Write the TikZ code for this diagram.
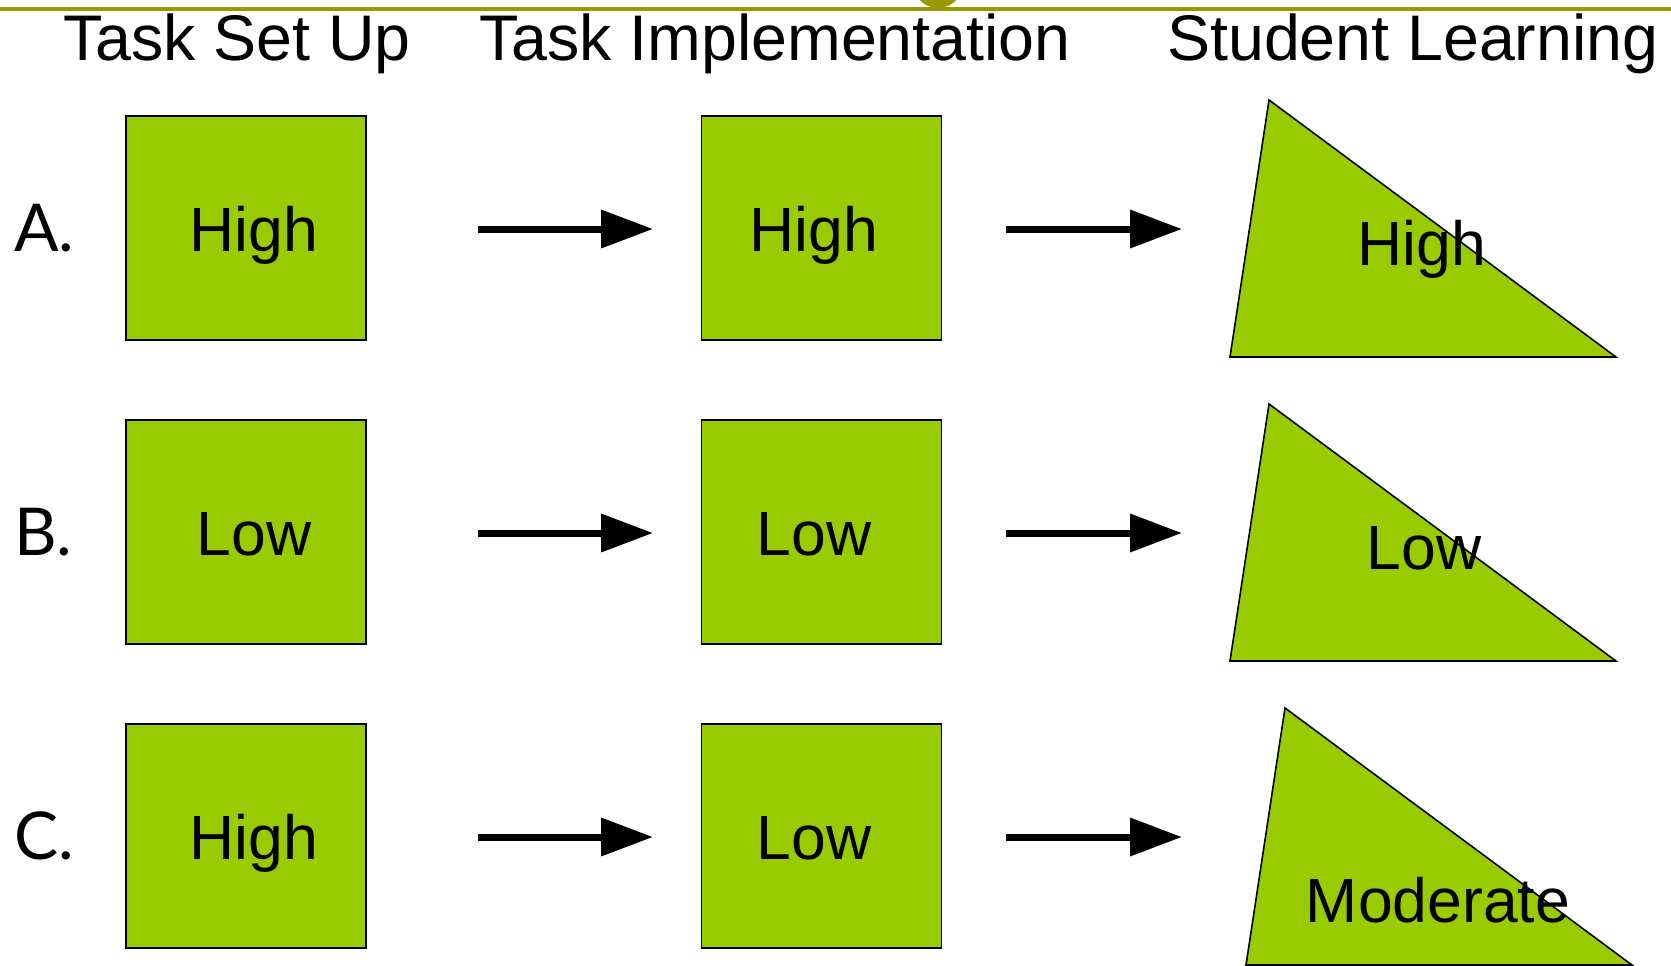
\documentclass[tikz,border=0pt]{standalone}
\usepackage{fontspec}
\setmainfont{Liberation Sans}
\newfontfamily\labelfont{Lato}
\usetikzlibrary{arrows.meta}
\definecolor{boxgreen}{RGB}{153,204,0}
\definecolor{olive}{RGB}{153,153,0}
\tikzset{
  box/.style={draw=black, line width=1.8pt, fill=boxgreen, minimum width=240pt, minimum height=224pt, inner sep=0pt},
  tri/.style={draw=black, line width=1.6pt, fill=boxgreen, line join=miter},
  word/.style={font=\fontsize{62.5}{70}\selectfont, anchor=base, inner sep=0pt},
  rowlab/.style={font=\labelfont\fontsize{66}{72}\selectfont, anchor=base west, inner sep=0pt},
  head/.style={font=\fontsize{64.5}{70}\selectfont, anchor=base west, inner sep=0pt},
  flow/.style={line width=7pt, -{Triangle[length=52pt,width=37pt]}}
}
\begin{document}
\begin{tikzpicture}[x=1pt,y=-1pt]
\useasboundingbox (0,0) rectangle (1671,966);
\clip (0,0) rectangle (1671,966);
% top decoration
\fill[olive] (938,-17) circle[radius=25];
\draw[olive, line width=4pt] (0,9.5) -- (1671,9.5);
% headers
\node[head] (h1) at (63,60) {Task Set Up};
\node[head] (h2) at (479,60) {Task Implementation};
\node[head] (h3) at (1167,60) {Student Learning};
% rows
\foreach \r/\lab/\ta/\tb/\dx [count=\i from 0] in {A/A./High/High/0, B/B./Low/Low/0, C/C./High/Low/16}{
  \pgfmathsetmacro{\oy}{304*\i}
  \begin{scope}[yshift=-\oy pt]
    \node[rowlab] (lab\r) at (14,251) {\lab};
    \node[box] (\r1) at (246,228) {};
    \node[box] (\r2) at (821.5,228) {};
    \coordinate (\r t1) at (1269+\dx,100);
    \coordinate (\r t2) at (1230+\dx,357);
    \coordinate (\r t3) at (1616+\dx,357);
    \draw[tri] (\r t1) -- (\r t2) -- (\r t3) -- cycle;
    \node[word] (\r w1) at (254,251) {\ta};
    \node[word] (\r w2) at (814,251) {\tb};
    \coordinate (\r a1s) at (478,229);
    \coordinate (\r a1e) at (653,229);
    \coordinate (\r a2s) at (1006,229);
    \coordinate (\r a2e) at (1182,229);
    \draw[flow] (\r a1s) -- (\r a1e);
    \draw[flow] (\r a2s) -- (\r a2e);
  \end{scope}
}
\node[word] (Aw3) at (1422,265) {High};
\node[word] (Bw3) at (1424,569) {Low};
\node[word] (Cw3) at (1438,922) {Moderate};
\end{tikzpicture}
\end{document}
